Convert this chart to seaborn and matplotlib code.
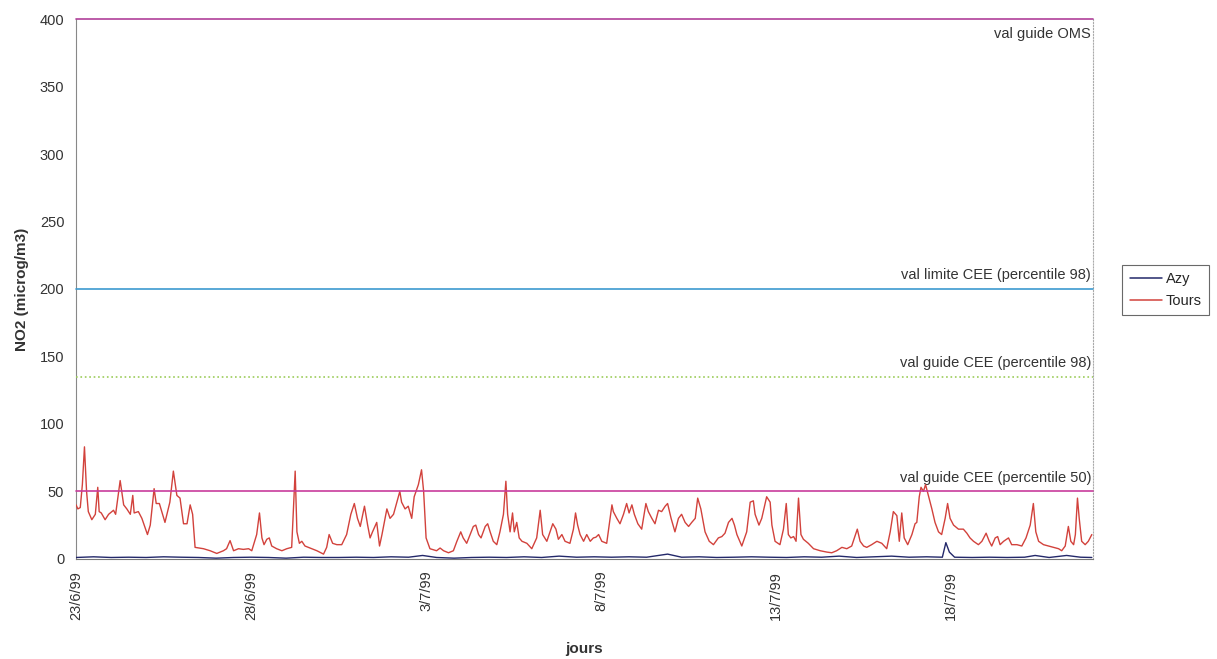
import pandas as pd
import matplotlib
matplotlib.use("Agg")
import matplotlib.pyplot as plt
import seaborn as sns

# day offset from 23/6/99 00h, NO2 value (microg/m3)
tours_day = [0.00, 0.05, 0.12, 0.18, 0.24, 0.30, 0.35, 0.45, 0.55, 0.62, 0.66, 0.72, 0.83, 0.93,
             1.07, 1.13, 1.26, 1.36, 1.45, 1.55, 1.62, 1.66, 1.78, 1.88, 2.04, 2.12, 2.23, 2.29,
             2.38, 2.54, 2.68, 2.78, 2.88, 2.97, 3.07, 3.17, 3.26, 3.33, 3.40, 3.64, 3.83, 4.02,
             4.21, 4.30, 4.40, 4.50, 4.64, 4.78, 4.93, 5.02, 5.16, 5.24, 5.31, 5.37, 5.45, 5.52,
             5.59, 5.73, 5.88, 6.02, 6.16, 6.26, 6.31, 6.38, 6.45, 6.54, 6.73, 6.88, 7.07, 7.16,
             7.23, 7.33, 7.45, 7.59, 7.73, 7.85, 7.95, 8.04, 8.12, 8.24, 8.33, 8.40, 8.47, 8.59,
             8.67, 8.74, 8.88, 8.97, 9.07, 9.25, 9.30, 9.40, 9.49, 9.59, 9.66, 9.78, 9.87, 9.93,
             10.00, 10.11, 10.30, 10.40, 10.50, 10.64, 10.78, 10.88, 10.99, 11.06, 11.16, 11.26,
             11.35, 11.42, 11.50, 11.57, 11.69, 11.76, 11.83, 11.92, 12.02, 12.11, 12.21, 12.28,
             12.33, 12.40, 12.47, 12.52, 12.59, 12.66, 12.74, 12.88, 13.02, 13.16, 13.26, 13.33,
             13.45, 13.54, 13.62, 13.71, 13.78, 13.88, 13.97, 14.11, 14.21, 14.27, 14.33, 14.40,
             14.50, 14.59, 14.69, 14.78, 14.85, 14.93, 15.02, 15.16, 15.31, 15.35, 15.45, 15.54,
             15.64, 15.73, 15.80, 15.88, 15.95, 16.05, 16.16, 16.28, 16.35, 16.45, 16.54, 16.64,
             16.73, 16.83, 16.90, 17.00, 17.11, 17.21, 17.30, 17.40, 17.50, 17.59, 17.69, 17.76,
             17.85, 17.97, 18.09, 18.21, 18.35, 18.45, 18.54, 18.64, 18.74, 18.81, 18.88, 19.02,
             19.16, 19.26, 19.35, 19.40, 19.51, 19.59, 19.73, 19.83, 19.88, 19.97, 20.11, 20.21,
             20.29, 20.35, 20.42, 20.50, 20.57, 20.64, 20.71, 20.78, 20.92, 21.07, 21.26, 21.45,
             21.59, 21.73, 21.88, 22.02, 22.16, 22.32, 22.40, 22.50, 22.59, 22.73, 22.88, 23.02,
             23.16, 23.26, 23.35, 23.45, 23.52, 23.59, 23.66, 23.76, 23.88, 23.97, 24.02, 24.09,
             24.14, 24.21, 24.27, 24.35, 24.45, 24.54, 24.64, 24.73, 24.83, 24.90, 24.97, 25.07,
             25.21, 25.35, 25.45, 25.54, 25.64, 25.78, 25.88, 26.00, 26.09, 26.16, 26.26, 26.33,
             26.40, 26.50, 26.64, 26.73, 26.88, 27.02, 27.14, 27.26, 27.35, 27.42, 27.50, 27.64,
             27.78, 27.93, 28.07, 28.16, 28.26, 28.35, 28.42, 28.50, 28.55, 28.61, 28.66, 28.73,
             28.83, 28.92, 29.02]
tours_no2 = [40, 37, 38, 55, 83, 50, 35, 29, 33, 53, 35, 34, 29, 33,
             36, 33, 58, 40, 37, 33, 47, 34, 35, 30, 18, 25, 52, 41,
             41, 27, 42, 65, 47, 45, 26, 26, 40, 33, 8.5, 7.5, 6, 4,
             6, 7.5, 13.5, 6, 7.5, 7, 7.5, 6, 18, 34, 15.5, 10.5, 14.5, 15.5,
             9.5, 7.5, 6, 7.5, 8.5, 65, 20, 11.5, 13, 9.5, 7.5, 6, 3.5, 8.5,
             18, 11.5, 10.5, 10.5, 18, 33, 41, 30, 24, 39, 25, 15.5, 20, 27,
             9.5, 18, 37, 30, 33, 50, 42, 37, 39, 30, 46, 55, 66, 50,
             15.5, 7.5, 6, 8, 6, 4.5, 6, 13, 20, 15.5, 11.5, 18,
             24, 25, 18, 15.5, 24, 26, 20, 13, 10.5, 20, 33, 57.5,
             33, 20, 34, 20, 27, 15.5, 13, 11.5, 7.5, 15.5, 36, 18,
             13, 20, 26, 22, 14.5, 18, 13, 11.5, 22, 34, 25, 18,
             13, 18, 13, 15.5, 16, 18, 13, 11.5, 40, 35, 30, 26,
             33, 41, 34, 40, 33, 26, 22, 41, 35, 30, 26, 36,
             35, 39, 41, 30, 20, 30, 33, 27, 24, 27, 30, 45,
             37, 20, 13, 10.5, 15.5, 16.5, 19, 27, 30, 25, 18, 9.5,
             20, 42, 43, 33, 25, 30, 46, 42, 25, 13, 10.5, 22,
             41, 18, 15.5, 16.5, 13, 45, 18, 14.5, 11.5, 7.5, 6, 5,
             4.5, 6, 8.5, 7.5, 9.5, 22, 13, 9.5, 8.5, 10.5, 13, 11.5,
             7.5, 20, 35, 32, 13, 34, 15.5, 10.5, 18, 26, 27, 46,
             53, 50, 55, 47, 37, 27, 20, 18, 30, 41, 30, 25,
             22, 22, 19, 15.5, 13, 10.5, 13, 19, 13, 9.5, 15.5, 16.5,
             10.5, 13, 15.5, 10.5, 10.5, 9.5, 15.5, 25, 41, 20, 13, 10.5,
             9.5, 8.5, 7.5, 6, 9.5, 24, 13, 10.5, 18, 45, 30, 13,
             10.5, 13, 18]

azy_day = [0, 0.5, 1, 1.5, 2, 2.5, 3, 3.5, 4, 4.5, 5, 5.5, 6, 6.5, 7, 7.5, 8, 8.5, 9, 9.5,
           9.9, 10.3, 10.8, 11.3, 11.8, 12.3, 12.8, 13.3, 13.8, 14.3, 14.8, 15.3, 15.8, 16.3,
           16.9, 17.3, 17.8, 18.3, 18.8, 19.3, 19.8, 20.3, 20.8, 21.3, 21.8, 22.3, 22.8, 23.3,
           23.8, 24.3, 24.75, 24.85, 24.95, 25.1, 25.6, 26.1, 26.6, 27.1, 27.4, 27.8, 28.3,
           28.7, 29.02]
azy_no2 = [1, 1.5, 1, 1.2, 1, 1.5, 1.2, 1, 0.5, 1, 1.2, 1, 0.5, 1.2, 1, 1, 1.2, 1, 1.5, 1.2,
           2.5, 1, 0.5, 1, 1.2, 1, 1.5, 1, 2, 1.2, 1.5, 1.2, 1.5, 1.2,
           3.5, 1.2, 1.5, 1, 1.2, 1.5, 1.2, 1, 1.5, 1.2, 2, 1, 1.5, 2,
           1.2, 1.5, 1.2, 12, 5, 1.2, 1, 1.2, 1, 1.2, 2.5, 1, 2.5,
           1.2, 1]

# reference values
ref_values = [400, 200, 135, 50]
ref_labels = ["val guide OMS", "val limite CEE (percentile 98)",
              "val guide CEE (percentile 98)", "val guide CEE (percentile 50)"]
ref_colors = ["#b0409a", "#3c9ad0", "#9ccc5a", "#c83c9c"]
ref_styles = ["-", "-", ":", "-"]

date_ticks = [0, 5, 10, 15, 20, 25]
date_labels = ["23/6/99", "28/6/99", "3/7/99", "8/7/99", "13/7/99", "18/7/99"]

df = pd.concat([
    pd.DataFrame({"jour": azy_day, "no2": azy_no2, "site": "Azy"}),
    pd.DataFrame({"jour": tours_day, "no2": tours_no2, "site": "Tours"}),
])

sns.set_style("white")
plt.rcParams["font.family"] = ["Liberation Sans", "DejaVu Sans"]

fig = plt.figure(figsize=(12.17, 6.59), dpi=100)
ax = fig.add_axes([0.0625, 0.152, 0.8355, 0.819])

for val, lab, col, ls in zip(ref_values, ref_labels, ref_colors, ref_styles):
    ax.axhline(val, color=col, lw=1.2, ls=ls, zorder=4, clip_on=False)
    if val == 400:
        ax.text(29.0, val - 6, lab, ha="right", va="top", fontsize=10.5, color="#333333")
    else:
        ax.text(29.0, val + 5, lab, ha="right", va="bottom", fontsize=10.5, color="#333333")

sns.lineplot(data=df, x="jour", y="no2", hue="site", palette={"Azy": "#23286a", "Tours": "#d2423c"},
             lw=1.0, ax=ax, legend=False, zorder=3)

ax.set_xlim(0, 29.05)
ax.set_ylim(0, 400)
ax.set_yticks(range(0, 401, 50))
ax.set_xticks(date_ticks)
ax.set_xticklabels(date_labels, rotation=90)
ax.set_xticks([d for d in range(0, 30)], minor=True)
ax.tick_params(axis="both", which="both", direction="out", color="#777777", labelsize=10.5,
               labelcolor="#333333")
ax.tick_params(axis="both", which="major", length=5)
ax.tick_params(axis="x", which="minor", length=4)
ax.set_xlabel("jours", fontsize=11, fontweight="bold", color="#333333", labelpad=16)
ax.set_ylabel("NO2 (microg/m3)", fontsize=11, fontweight="bold", color="#333333", labelpad=8)

ax.spines["top"].set_visible(False)
ax.spines["left"].set_color("#888888")
ax.spines["bottom"].set_color("#777777")
ax.spines["right"].set_color("#aaaaaa")
ax.spines["right"].set_linestyle(":")

handles = [plt.Line2D([], [], color="#23286a", lw=1.1), plt.Line2D([], [], color="#d2423c", lw=1.1)]
leg = fig.legend(handles, ["Azy", "Tours"], loc="center", bbox_to_anchor=(0.958, 0.56),
                 fontsize=10.5, frameon=True, fancybox=False, handlelength=2.2,
                 borderpad=0.5, labelspacing=0.5, handletextpad=0.3)
leg.get_frame().set_edgecolor("#444444")
leg.get_frame().set_linewidth(0.8)

plt.savefig("out.png", dpi=100)
